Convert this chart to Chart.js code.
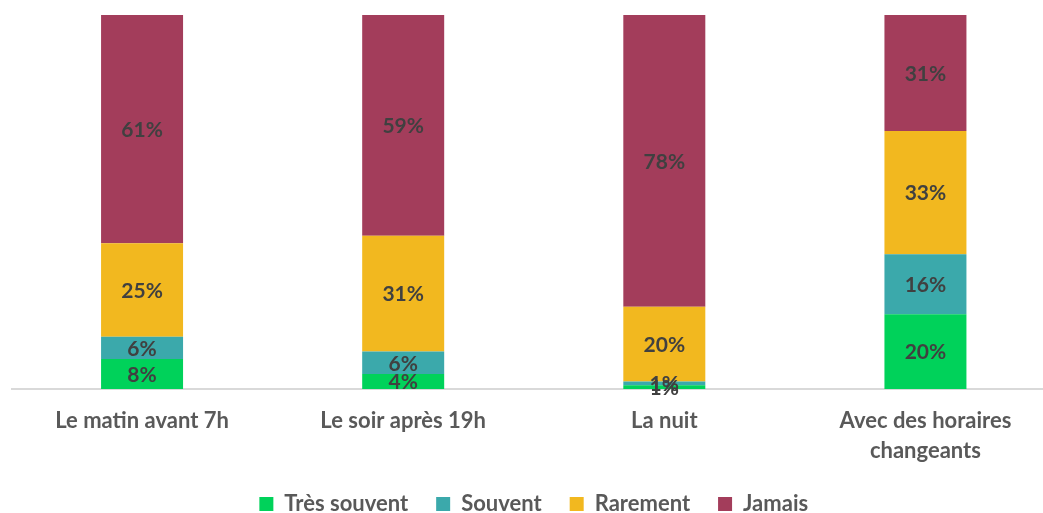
<!DOCTYPE html>
<html><head><meta charset="utf-8">
<script src="https://cdn.jsdelivr.net/npm/chart.js@4"></script>
<style>
html,body{margin:0;padding:0;background:#fff;overflow:hidden;}
#wrap{position:absolute;left:0;top:0;width:1056px;height:525px;}
</style></head>
<body>
<div id="wrap"><canvas id="c"></canvas></div>
<script>
const categories = ["Le matin avant 7h", "Le soir après 19h", "La nuit", ["Avec des horaires", "changeants"]];
const seriesNames = ["Très souvent", "Souvent", "Rarement", "Jamais"];
const tresSouvent = [8, 4, 1, 20];
const souvent = [6, 6, 1, 16];
const rarement = [25, 31, 20, 33];
const jamais = [61, 59, 78, 31];
const colors = ["#00D25A", "#3BA9AB", "#F2B81F", "#A33D5B"];

const FONT = "Lato, 'Open Sans', sans-serif";

const labelPlugin = {
  id: 'segLabels',
  afterDatasetsDraw(chart) {
    const ctx = chart.ctx;
    ctx.save();
    ctx.font = "bold 21px " + FONT;
    ctx.fillStyle = "#404040";
    ctx.textAlign = "center";
    ctx.textBaseline = "middle";
    chart.data.datasets.forEach((ds, i) => {
      const meta = chart.getDatasetMeta(i);
      meta.data.forEach((el, j) => {
        const v = ds.data[j];
        const cy = (el.y + el.base) / 2;
        ctx.fillText(v + "%", el.x, cy + 1);
      });
    });
    ctx.restore();
  }
};

new Chart(document.getElementById('c'), {
  type: 'bar',
  data: {
    labels: categories,
    datasets: [
      { label: seriesNames[0], data: tresSouvent, backgroundColor: colors[0] },
      { label: seriesNames[1], data: souvent, backgroundColor: colors[1] },
      { label: seriesNames[2], data: rarement, backgroundColor: colors[2] },
      { label: seriesNames[3], data: jamais, backgroundColor: colors[3] }
    ]
  },
  options: {
    responsive: true,
    maintainAspectRatio: false,
    animation: false,
    layout: { padding: { left: 11.5, right: 0, top: 15, bottom: 0 } },
    datasets: { bar: { categoryPercentage: 1, barPercentage: 0.314 } },
    scales: {
      x: {
        stacked: true,
        grid: { display: false, drawTicks: false },
        border: { display: true, color: "#D9D9D9", width: 2 },
        ticks: { color: "#595959", font: { family: FONT, size: 22, weight: 'bold', lineHeight: 1.36 }, padding: 17, maxRotation: 0, autoSkip: false },
        afterFit(scale) { scale.height = 76; }
      },
      y: { stacked: true, display: false, min: 0, max: 100 }
    },
    plugins: {
      legend: {
        position: 'bottom',
        labels: { color: "#595959", font: { family: FONT, size: 22, weight: 'bold' }, boxWidth: 14, boxHeight: 14, padding: 28 }
      },
      tooltip: { enabled: false }
    }
  },
  plugins: [labelPlugin]
});
</script>
</body></html>
